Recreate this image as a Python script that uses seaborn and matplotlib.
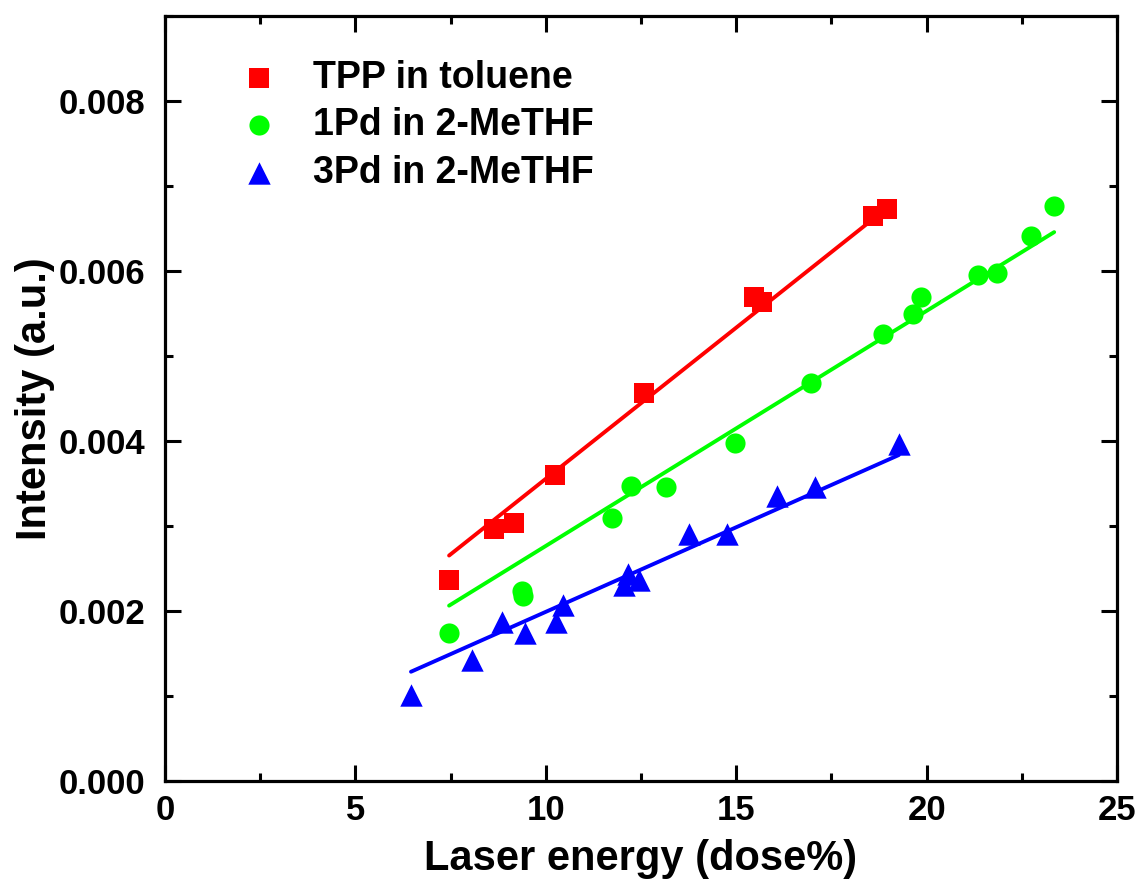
import numpy as np
import pandas as pd
import matplotlib
matplotlib.use("Agg")
import matplotlib.pyplot as plt
from matplotlib.ticker import MultipleLocator
import seaborn as sns

# ---- data ----
tpp_x = [7.46, 8.64, 9.17, 10.24, 12.58, 15.47, 15.68, 18.59, 18.96]
tpp_y = [0.002365, 0.002965, 0.003035, 0.00360, 0.004565, 0.005694, 0.005635, 0.006647, 0.00673]

pd1_x = [7.46, 9.37, 9.40, 11.75, 12.25, 13.16, 14.96, 16.96, 18.86, 19.65, 19.85, 21.34, 21.86, 22.74, 23.35]
pd1_y = [0.001741, 0.002230, 0.002180, 0.003090, 0.003470, 0.003460, 0.003973, 0.004686, 0.005255,
         0.005494, 0.005690, 0.005953, 0.005973, 0.006415, 0.006765]

pd3_x = [6.46, 8.06, 8.86, 9.46, 10.26, 10.45, 12.06, 12.15, 12.46, 13.76, 14.76, 16.06, 17.06, 19.27]
pd3_y = [0.001012, 0.001424, 0.001874, 0.001737, 0.001874, 0.002071, 0.002306, 0.002435, 0.002365,
         0.002902, 0.002902, 0.003353, 0.003455, 0.003965]

labels = ["TPP in toluene", "1Pd in 2-MeTHF", "3Pd in 2-MeTHF"]
colors = ["#FF0000", "#00FF00", "#0000FF"]
markers = ["s", "o", "^"]
sizes = [190, 210, 260]

x_label = "Laser energy (dose%)"
y_label = "Intensity (a.u.)"

series = [(tpp_x, tpp_y), (pd1_x, pd1_y), (pd3_x, pd3_y)]

frames = []
for lab, (xs, ys) in zip(labels, series):
    frames.append(pd.DataFrame({"x": xs, "y": ys, "series": lab}))
df = pd.concat(frames, ignore_index=True)

# linear fits through the origin (y = k x), drawn over each series' x range
fit_frames = []
for lab, (xs, ys) in zip(labels, series):
    xa = np.asarray(xs); ya = np.asarray(ys)
    k = np.sum(xa * ya) / np.sum(xa * xa)
    xf = np.array([xa.min(), xa.max()])
    fit_frames.append(pd.DataFrame({"x": xf, "y": k * xf, "series": lab}))
fit_df = pd.concat(fit_frames, ignore_index=True)

sns.set_style("ticks")
plt.rcParams["font.family"] = ["Liberation Sans", "DejaVu Sans"]
plt.rcParams["font.weight"] = "bold"
plt.rcParams["text.color"] = "black"
plt.rcParams["axes.labelcolor"] = "black"
plt.rcParams["xtick.color"] = "black"
plt.rcParams["ytick.color"] = "black"
plt.rcParams["axes.edgecolor"] = "black"

fig = plt.figure(figsize=(11.37, 8.81), dpi=100)
ax = fig.add_axes([165 / 1137, 1 - 781 / 881, (1117 - 165) / 1137, (781 - 16) / 881])

palette = dict(zip(labels, colors))
sns.lineplot(data=fit_df, x="x", y="y", hue="series", palette=palette,
             linewidth=2.8, legend=False, ax=ax, zorder=2)

for lab, mk, sz in zip(labels, markers, sizes):
    sub = df[df["series"] == lab]
    sns.scatterplot(data=sub, x="x", y="y", color=palette[lab], marker=mk, s=sz,
                    linewidth=0, ax=ax, label=lab, zorder=3)

ax.set_xlim(0, 25)
ax.set_ylim(0, 0.009)
ax.xaxis.set_major_locator(MultipleLocator(5))
ax.xaxis.set_minor_locator(MultipleLocator(2.5))
ax.yaxis.set_major_locator(MultipleLocator(0.002))
ax.yaxis.set_minor_locator(MultipleLocator(0.001))
ax.yaxis.set_major_formatter(matplotlib.ticker.FormatStrFormatter("%.3f"))

ax.tick_params(which="both", direction="in", top=True, right=True, width=2.2,
               color="black", labelcolor="black")
ax.tick_params(which="major", length=11.5)
ax.tick_params(which="minor", length=5.8)
ax.tick_params(axis="x", which="major", pad=9, labelsize=25)
ax.tick_params(axis="y", which="major", pad=14, labelsize=25)
for lbl in ax.get_xticklabels() + ax.get_yticklabels():
    lbl.set_fontweight("bold")

for sp in ax.spines.values():
    sp.set_linewidth(2.3)
    sp.set_color("black")

ax.set_xlabel(x_label, fontsize=30, fontweight="bold", labelpad=9, color="black")
ax.set_ylabel(y_label, fontsize=30, fontweight="bold", labelpad=3, color="black")

leg = ax.legend(loc="upper left", bbox_to_anchor=(0.063, 0.962), frameon=False,
                prop={"weight": "bold", "size": 27},
                handlelength=1.0, handletextpad=0.95, labelspacing=0.3,
                borderaxespad=0, markerscale=1.0)
for t in leg.get_texts():
    t.set_color("black")

fig.savefig("out.png", dpi=100)
